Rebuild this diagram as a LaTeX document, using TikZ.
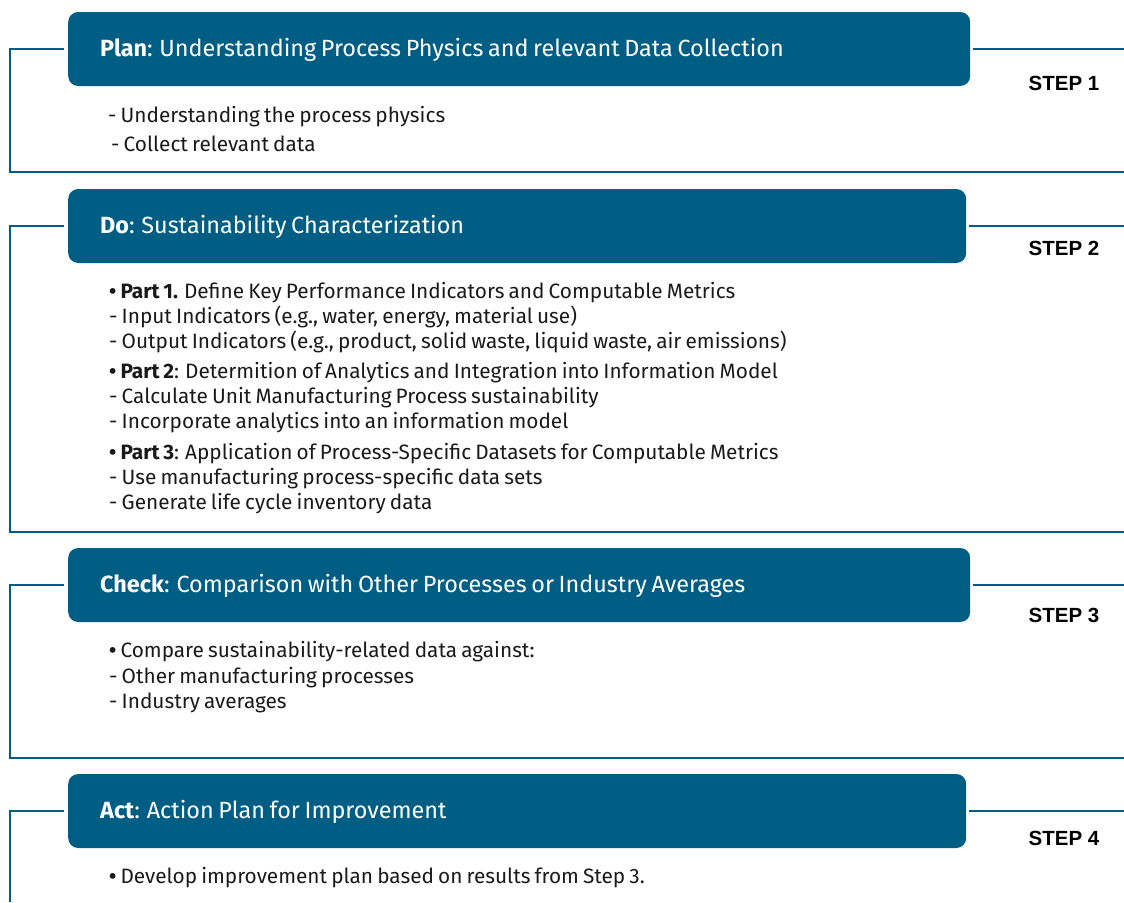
\documentclass[tikz,border=0pt]{standalone}
\usepackage{fontspec}
\setmainfont{Fira Sans}[WordSpace=0.75]
\newfontfamily\steplabelfont{Liberation Sans}
\usepackage{xcolor}
\usetikzlibrary{positioning}
\definecolor{pdcablue}{HTML}{005E85}
\definecolor{bodygray}{HTML}{1A1A1A}

\newcommand{\dotitem}{{\bfseries •}\ }

\tikzset{
    phasebox/.style={fill=pdcablue, rounded corners=10pt, minimum height=74pt,
        inner sep=0pt, anchor=west},
    phasetitle/.style={inner sep=0pt, text height=0.7em, text depth=0pt, yshift=-4pt,
        text=white, font=\fontsize{23.4}{27}\selectfont},
    stepline/.style={draw=pdcablue, line width=2.8pt},
    steplabel/.style={font=\steplabelfont\bfseries\fontsize{20.5}{24}\selectfont, text=black},
    itemline/.style={anchor=west, inner xsep=0pt, inner ysep=0pt, text height=0.7em,
        text depth=0pt, text=bodygray, font=\fontsize{20.8}{24}\selectfont},
}

\begin{document}
\begin{tikzpicture}[x=1pt, y=-1pt]
    \useasboundingbox (0,0) rectangle (1124,902);

    % PLAN
    \node[phasebox, minimum width=902pt] (plan) at (68,49) {};
    \node[phasetitle, right=32pt of plan.west] (plantitle) {\textbf{Plan}: Understanding Process Physics and relevant Data Collection};
    \coordinate (plancorner) at (10,172);
    \coordinate (planend) at (1124,172);
    \draw[stepline] ([xshift=-4pt]plan.west) -| (plancorner) -- (planend);
    \draw[stepline] ([xshift=3pt]plan.east) -- (plan.east -| planend);
    \node[steplabel] (step1) at (1064,83) {STEP 1};

    \node[itemline] (plan1) at (108,119) {- Understanding the process physics};
    \node[itemline] (plan2) at (111,148) {- Collect relevant data};

    % DO
    \node[phasebox, minimum width=898pt] (do) at (68,226) {};
    \node[phasetitle, right=32pt of do.west] (dotitle) {\textbf{Do}: Sustainability Characterization};
    \coordinate (docorner) at (10,532);
    \coordinate (doend) at (1124,532);
    \draw[stepline] ([xshift=-4pt]do.west) -| (docorner) -- (doend);
    \draw[stepline] ([xshift=3pt]do.east) -- (do.east -| doend);
    \node[steplabel] (step2) at (1064,248) {STEP 2};

    \node[itemline] (do1) at (109,295) {\dotitem\textbf{Part 1.} Define Key Performance Indicators and Computable Metrics};
    \node[itemline] (do2) at (109,320) {- Input Indicators (e.g., water, energy, material use)};
    \node[itemline] (do3) at (109,345) {- Output Indicators (e.g., product, solid waste, liquid waste, air emissions)};
    \node[itemline] (do4) at (109,375) {\dotitem\textbf{Part 2}: Determition of Analytics and Integration into Information Model};
    \node[itemline] (do5) at (109,400) {- Calculate Unit Manufacturing Process sustainability};
    \node[itemline] (do6) at (109,425) {- Incorporate analytics into an information model};
    \node[itemline] (do7) at (109,456) {\dotitem\textbf{Part 3}: Application of Process-Specific Datasets for Computable Metrics};
    \node[itemline] (do8) at (109,481) {- Use manufacturing process-specific data sets};
    \node[itemline] (do9) at (109,506) {- Generate life cycle inventory data};

    % CHECK
    \node[phasebox, minimum width=902pt] (check) at (68,585) {};
    \node[phasetitle, right=32pt of check.west] (checktitle) {\textbf{Check}: Comparison with Other Processes or Industry Averages};
    \coordinate (checkcorner) at (10,758);
    \coordinate (checkend) at (1124,758);
    \draw[stepline] ([xshift=-4pt]check.west) -| (checkcorner) -- (checkend);
    \draw[stepline] ([xshift=3pt]check.east) -- (check.east -| checkend);
    \node[steplabel] (step3) at (1064,615) {STEP 3};

    \node[itemline] (check1) at (109,654) {\dotitem Compare sustainability-related data against:};
    \node[itemline] (check2) at (109,680) {- Other manufacturing processes};
    \node[itemline] (check3) at (109,705) {- Industry averages};

    % ACT
    \node[phasebox, minimum width=898pt] (act) at (68,811) {};
    \node[phasetitle, right=32pt of act.west] (acttitle) {\textbf{Act}: Action Plan for Improvement};
    \coordinate (actcorner) at (10,902);
    \draw[stepline] ([xshift=-4pt]act.west) -| (actcorner);
    \draw[stepline] ([xshift=3pt]act.east) -- (act.east -| planend);
    \node[steplabel] (step4) at (1064,838) {STEP 4};

    \node[itemline] (act1) at (109,880) {\dotitem Develop improvement plan based on results from Step 3.};
\end{tikzpicture}
\end{document}
